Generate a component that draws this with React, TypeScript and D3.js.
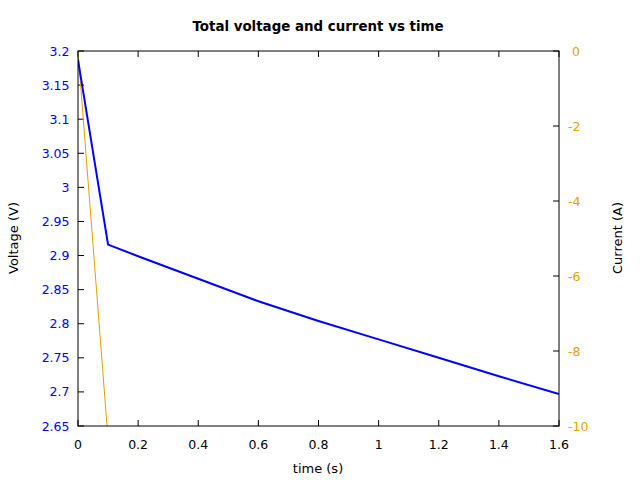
import React from "react";
import * as d3 from "d3";

const timeV = [0, 0.1, 0.2, 0.4, 0.6, 0.8, 1.0, 1.2, 1.4, 1.6];
const voltage = [3.187, 2.916, 2.899, 2.866, 2.833, 2.804, 2.777, 2.750, 2.723, 2.697];
const timeI = [0, 0.1, 0.2, 1.6];
const current = [0, -10.35, -10.35, -10.35];
const xTicks = [0, 0.2, 0.4, 0.6, 0.8, 1, 1.2, 1.4, 1.6];
const yTicks = [2.65, 2.7, 2.75, 2.8, 2.85, 2.9, 2.95, 3, 3.05, 3.1, 3.15, 3.2];
const y2Ticks = [0, -2, -4, -6, -8, -10];

const W = 640, H = 480;
const L = 78, R = 559, T = 51, B = 426;
const BLUE = "#0000ff";
const ORANGE = "#e69f00";
const FONT = "DejaVu Sans, sans-serif";
const TICK_FS = 12.5;
const LABEL_FS = 13;

export default function App() {
  const x = d3.scaleLinear().domain([0, 1.6]).range([L, R]);
  const y = d3.scaleLinear().domain([2.65, 3.2]).range([B, T]);
  const y2 = d3.scaleLinear().domain([-10, 0]).range([B, T]);
  const vLine = d3.line<number>().x((_, i) => x(timeV[i])).y((d) => y(d))(voltage) || "";
  const iLine = d3.line<number>().x((_, i) => x(timeI[i])).y((d) => y2(d))(current) || "";
  const fmt = (v: number) => String(+v.toFixed(2));
  return (
    <svg width={W} height={H} style={{ position: "absolute", left: 0, top: 0 }} fontFamily={FONT}>
      <rect width={W} height={H} fill="white" />
      <defs>
        <clipPath id="plotclip">
          <rect x={L} y={T} width={R - L} height={B - T} />
        </clipPath>
      </defs>
      <text x={318} y={31} textAnchor="middle" fontSize={13.4} fontWeight="bold">
        Total voltage and current vs time
      </text>
      {xTicks.map((t) => (
        <g key={"x" + t}>
          <line x1={x(t)} x2={x(t)} y1={B} y2={B - 6} stroke="black" />
          <line x1={x(t)} x2={x(t)} y1={T} y2={T + 6} stroke="black" />
          <text x={x(t)} y={449} textAnchor="middle" fontSize={TICK_FS} fill="black">{fmt(t)}</text>
        </g>
      ))}
      {yTicks.map((t) => (
        <g key={"y" + t}>
          <line x1={L} x2={L + 6} y1={y(t)} y2={y(t)} stroke="black" />
          <text x={69.5} y={y(t) + 4.5} textAnchor="end" fontSize={TICK_FS} fill={BLUE}>{fmt(t)}</text>
        </g>
      ))}
      {y2Ticks.map((t) => (
        <g key={"y2" + t}>
          <line x1={R} x2={R - 6} y1={y2(t)} y2={y2(t)} stroke="black" />
          <text x={t >= 0 ? 572 : 568} y={y2(t) + 4.5} textAnchor="start" fontSize={TICK_FS} fill={ORANGE}>{fmt(t)}</text>
        </g>
      ))}
      <g clipPath="url(#plotclip)">
        <path d={iLine} fill="none" stroke={ORANGE} strokeWidth={1} />
        <path d={vLine} fill="none" stroke={BLUE} strokeWidth={2} />
      </g>
      <rect x={L} y={T} width={R - L} height={B - T} fill="none" stroke="black" strokeWidth={1} />
      <text x={318} y={473} textAnchor="middle" fontSize={LABEL_FS}>time (s)</text>
      <text transform={`translate(18,${238}) rotate(-90)`} textAnchor="middle" fontSize={LABEL_FS}>Voltage (V)</text>
      <text transform={`translate(622,${238}) rotate(-90)`} textAnchor="middle" fontSize={LABEL_FS}>Current (A)</text>
    </svg>
  );
}
